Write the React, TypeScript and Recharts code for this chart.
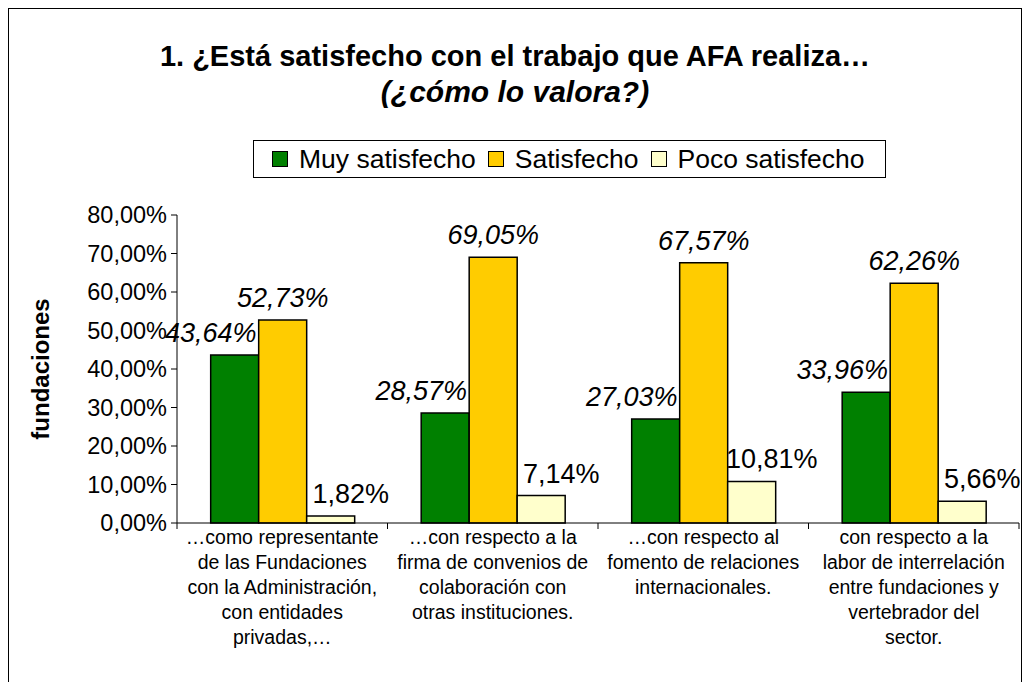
import { BarChart, Bar, XAxis, YAxis, LabelList, Label } from "recharts";

const categories = [
  "…como representante\nde las Fundaciones\ncon la Administración,\ncon entidades\nprivadas,…",
  "…con respecto a la\nfirma de convenios de\ncolaboración con\notras instituciones.",
  "…con respecto al\nfomento de relaciones\ninternacionales.",
  "con respecto a la\nlabor de interrelación\nentre fundaciones y\nvertebrador del\nsector.",
];
const muySatisfecho = [43.64, 28.57, 27.03, 33.96];
const satisfecho = [52.73, 69.05, 67.57, 62.26];
const pocoSatisfecho = [1.82, 7.14, 10.81, 5.66];
const yTicks = [0, 10, 20, 30, 40, 50, 60, 70, 80];

const data = categories.map((category, i) => ({
  category,
  muy: muySatisfecho[i],
  sat: satisfecho[i],
  poco: pocoSatisfecho[i],
}));

const series = [
  { key: "muy", name: "Muy satisfecho", color: "#008000", italic: true, dx: -24 },
  { key: "sat", name: "Satisfecho", color: "#FFCC00", italic: true, dx: 0 },
  { key: "poco", name: "Poco satisfecho", color: "#FFFFCC", italic: false, dx: 20 },
];

const FONT = "'Liberation Sans', Arial, sans-serif";
const W = 1012;
const H = 678;
const margin = { top: 206, right: 2, bottom: 14, left: 68 };
const Y_AXIS_W = 100;

const fmt = (v: number) => v.toFixed(2).replace(".", ",") + "%";

const CategoryTick = (props: any) => {
  const { x, y, payload, index } = props;
  const band = (W - margin.left - margin.right - Y_AXIS_W) / categories.length;
  const lines = String(payload.value).split("\n");
  const left = x - band / 2;
  return (
    <g>
      <line x1={left} x2={left} y1={y} y2={y + 6} stroke="#000" />
      {index === categories.length - 1 && (
        <line x1={left + band} x2={left + band} y1={y} y2={y + 6} stroke="#000" />
      )}
      {lines.map((l, i) => (
        <text
          key={i}
          x={x}
          y={y + 21 + i * 25}
          textAnchor="middle"
          fontSize={19.5}
          fontFamily={FONT}
          fill="#000"
        >
          {l}
        </text>
      ))}
    </g>
  );
};

const makeLabel = (italic: boolean, dx: number) => (props: any) => {
  const { x, y, width, value } = props;
  return (
    <text
      x={Number(x) + Number(width) / 2 + dx}
      y={Number(y) - 13}
      textAnchor="middle"
      fontSize={27}
      fontStyle={italic ? "italic" : "normal"}
      fontFamily={FONT}
      fill="#000"
    >
      {fmt(Number(value))}
    </text>
  );
};

export default function App() {
  return (
    <div
      style={{
        position: "relative",
        width: W,
        height: H,
        border: "1px solid #000",
        background: "#fff",
        fontFamily: FONT,
      }}
    >
      <BarChart
        width={W}
        height={H}
        data={data}
        margin={margin}
        barCategoryGap="16%"
        barGap={0}
      >
        <XAxis
          dataKey="category"
          interval={0}
          tickSize={0}
          tickMargin={0}
          height={150}
          stroke="#000"
          tick={<CategoryTick />}
        />
        <YAxis
          domain={[0, 80]}
          ticks={yTicks}
          width={Y_AXIS_W}
          tickFormatter={fmt}
          tickSize={6}
          tickMargin={4}
          stroke="#000"
          tick={{ fill: "#000", fontSize: 23.5, fontFamily: FONT }}
        >
          <Label
            content={({ viewBox }: any) => {
              const cx = 31;
              const cy = viewBox.y + viewBox.height / 2;
              return (
                <text
                  x={cx}
                  y={cy}
                  transform={`rotate(-90 ${cx} ${cy})`}
                  textAnchor="middle"
                  dominantBaseline="central"
                  fontSize={24}
                  fontWeight="bold"
                  fontFamily={FONT}
                  fill="#000"
                >
                  fundaciones
                </text>
              );
            }}
          />
        </YAxis>
        {series.map((s) => (
          <Bar
            key={s.key}
            dataKey={s.key}
            name={s.name}
            fill={s.color}
            stroke="#000"
            strokeWidth={1.5}
            isAnimationActive={false}
          >
            <LabelList dataKey={s.key} content={makeLabel(s.italic, s.dx)} />
          </Bar>
        ))}
      </BarChart>

      <div
        style={{
          position: "absolute",
          top: 28,
          left: 0,
          width: W,
          textAlign: "center",
          fontWeight: "bold",
          color: "#000",
        }}
      >
        <div style={{ fontSize: 29, lineHeight: "38px" }}>
          1. ¿Está satisfecho con el trabajo que AFA realiza…
        </div>
        <div style={{ fontSize: 30, lineHeight: "34px", fontStyle: "italic" }}>
          (¿cómo lo valora?)
        </div>
      </div>

      <div
        style={{
          position: "absolute",
          top: 131,
          left: 244,
          width: 633,
          height: 38,
          boxSizing: "border-box",
          border: "1px solid #000",
          display: "flex",
          alignItems: "center",
          paddingLeft: 18,
          fontSize: 26.5,
          color: "#000",
          whiteSpace: "nowrap",
        }}
      >
        {series.map((s) => (
          <div key={s.key} style={{ display: "flex", alignItems: "center", marginRight: 12 }}>
            <span
              style={{
                display: "inline-block",
                width: 14,
                height: 14,
                background: s.color,
                border: "1px solid #000",
                marginRight: 11,
              }}
            />
            <span>{s.name}</span>
          </div>
        ))}
      </div>
    </div>
  );
}
